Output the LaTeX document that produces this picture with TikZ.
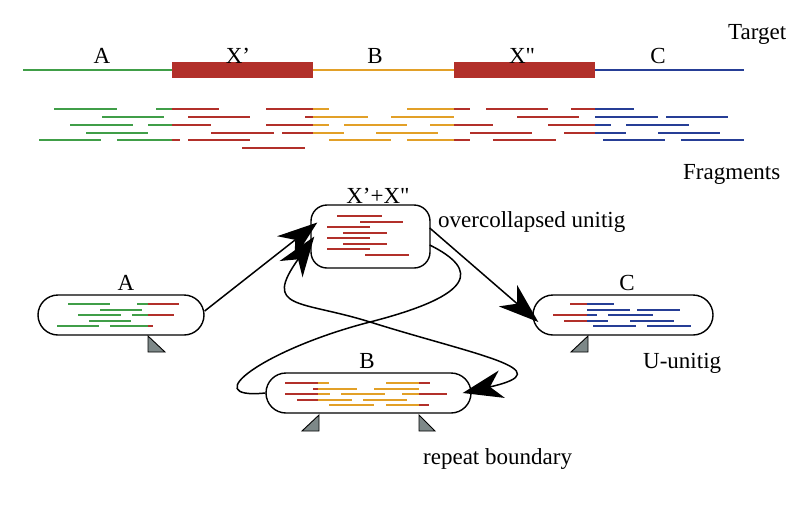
\documentclass[tikz,border=0pt]{standalone}
\usepackage{fontspec}
\setmainfont{Liberation Serif}[Ligatures=TeXOff]
\usetikzlibrary{arrows.meta,calc}
\definecolor{fgreen}{RGB}{64,158,72}
\definecolor{fred}{RGB}{178,48,42}
\definecolor{forange}{RGB}{226,160,40}
\definecolor{fblue}{RGB}{38,62,150}
\definecolor{tgray}{RGB}{125,136,136}
\begin{document}
\begin{tikzpicture}[x=1pt,y=-1pt,
  lbl/.style={font=\fontsize{23}{27}\selectfont, inner sep=0pt},
  unitig/.style={draw, line width=1.4pt, rounded corners=20pt, minimum height=40pt, inner sep=0pt},
  frag/.style={line width=2.2pt},
  ifrag/.style={line width=1.7pt},
  tri/.style={draw, fill=tgray, line width=0.9pt, line join=miter},
  conn/.style={line width=1.5pt},
  >={Stealth[length=40pt,width=28pt,inset=12pt]}]
\useasboundingbox (0,0) rectangle (809,512);

% ---------- target ----------
\draw[fgreen, line width=2pt] (23,70) -- (172,70);
\draw[forange, line width=2pt] (313,70) -- (454,70);
\draw[fblue, line width=2pt] (595,70) -- (744,70);
\fill[fred] (172,62) rectangle (313,78);
\fill[fred] (454,62) rectangle (595,78);
\node[lbl, anchor=base] (tA) at (102,63) {A};
\node[lbl, anchor=base] (tX1) at (238,63) {X’};
\node[lbl, anchor=base] (tB) at (375,63) {B};
\node[lbl, anchor=base] (tX2) at (522,63) {X"};
\node[lbl, anchor=base] (tC) at (658,63) {C};
\node[lbl, anchor=base west] (target) at (728,39) {Target};

% ---------- fragments ----------
\foreach \a/\b/\y in {54/117/109,156/172/109,102/164/117,70/133/125,148/172/125,86/148/133,39/101/140,117/172/140}
  \draw[frag,fgreen] (\a,\y) -- (\b,\y);
\foreach \a/\b/\y in {172/219/109,266/313/109,454/470/109,486/548/109,571/595/109,
  188/250/117,305/313/117,517/579/117,
  172/211/125,266/313/125,454/493/125,548/595/125,
  211/274/133,282/313/133,470/532/133,564/595/133,
  172/180/140,188/250/140,454/470/140,493/556/140,
  242/305/148}
  \draw[frag,fred] (\a,\y) -- (\b,\y);
\foreach \a/\b/\y in {313/329/109,407/454/109,313/368/117,391/454/117,313/329/125,344/407/125,430/454/125,
  313/344/133,376/438/133,329/391/140,407/454/140}
  \draw[frag,forange] (\a,\y) -- (\b,\y);
\foreach \a/\b/\y in {595/634/109,595/658/117,666/728/117,595/611/125,626/689/125,595/626/133,658/720/133,603/665/140,681/744/140}
  \draw[frag,fblue] (\a,\y) -- (\b,\y);
\node[lbl, anchor=base west] (fraglbl) at (683,179) {Fragments};

% ---------- unitig nodes ----------
\node[draw, line width=1.4pt, rounded corners=16pt, minimum width=119pt, minimum height=63pt, inner sep=0pt] (X) at (370.5,236.5) {};
\node[unitig, minimum width=166pt] (A) at (121,315) {};
\node[unitig, minimum width=180pt] (C) at (623,315) {};
\node[unitig, minimum width=205pt] (B) at (368.5,393) {};

\node[lbl, anchor=base] (lX) at (378,203) {X’+X"};
\node[lbl, anchor=base] (lA) at (126,290) {A};
\node[lbl, anchor=base] (lC) at (627,290) {C};
\node[lbl, anchor=base] (lB) at (367,368) {B};
\node[lbl, anchor=base west] (oc) at (438,227) {overcollapsed unitig};
\node[lbl, anchor=base west] (uu) at (643,368) {U-unitig};
\node[lbl, anchor=base west] (rb) at (423,464) {repeat boundary};

% fragments inside X
\foreach \a/\b/\y in {337/382/216,360/403/222,327/370/227,343/387/233,327/370/238,343/387/244,327/370/249,365/409/255}
  \draw[ifrag,fred] (\a,\y) -- (\b,\y);
% inside A
\foreach \a/\b/\y in {68/110/304,137/148/304,100/142/310,78/121/315,132/148/315,89/131/321,57/99/326,110/148/326}
  \draw[ifrag,fgreen] (\a,\y) -- (\b,\y);
\foreach \a/\b/\y in {148/179/304,148/174/315,148/153/326}
  \draw[ifrag,fred] (\a,\y) -- (\b,\y);
% inside C
\foreach \a/\b/\y in {570/587/304,553/587/315,564/587/321}
  \draw[ifrag,fred] (\a,\y) -- (\b,\y);
\foreach \a/\b/\y in {587/614/304,587/630/310,637/680/310,587/597/315,608/653/315,587/608/321,630/674/321,593/636/326,647/691/326}
  \draw[ifrag,fblue] (\a,\y) -- (\b,\y);
% inside B
\foreach \a/\b/\y in {285/318/383,419/430/383,313/318/389,285/318/394,419/447/394,297/318/400,419/429/405}
  \draw[ifrag,fred] (\a,\y) -- (\b,\y);
\foreach \a/\b/\y in {318/329/383,386/419/383,318/357/389,374/419/389,318/330/394,341/385/394,402/419/394,318/352/400,363/407/400,329/374/405,386/419/405}
  \draw[ifrag,forange] (\a,\y) -- (\b,\y);

% ---------- repeat boundary triangles ----------
\draw[tri] (148,336) -- (148,352) -- (165,352) -- cycle;
\draw[tri] (588,336) -- (588,352) -- (571,352) -- cycle;
\draw[tri] (319,415) -- (319,431) -- (302,431) -- cycle;
\draw[tri] (419,415) -- (419,431) -- (435,431) -- cycle;

% ---------- connectors ----------
\draw[conn, ->] ($(A.east)+(0,-4)$) -- ($(X.west)+(7,-14)$);
\draw[conn, ->] ($(X.east)+(-1,-8.5)$) -- ($(C.west)+(6,7)$);
\draw[conn] ($(X.east)+(-1,8.5)$) .. controls (480,270) and (475,295) .. (370,322)
  .. controls (265,349) and (195,400) .. (B.west);
\draw[conn, <->] ($(X.west)+(4,0)$) .. controls (262,310) and (300,300) .. (370,322)
  .. controls (475,355) and (565,370) .. ($(B.east)+(-9,0)$);
\end{tikzpicture}
\end{document}
